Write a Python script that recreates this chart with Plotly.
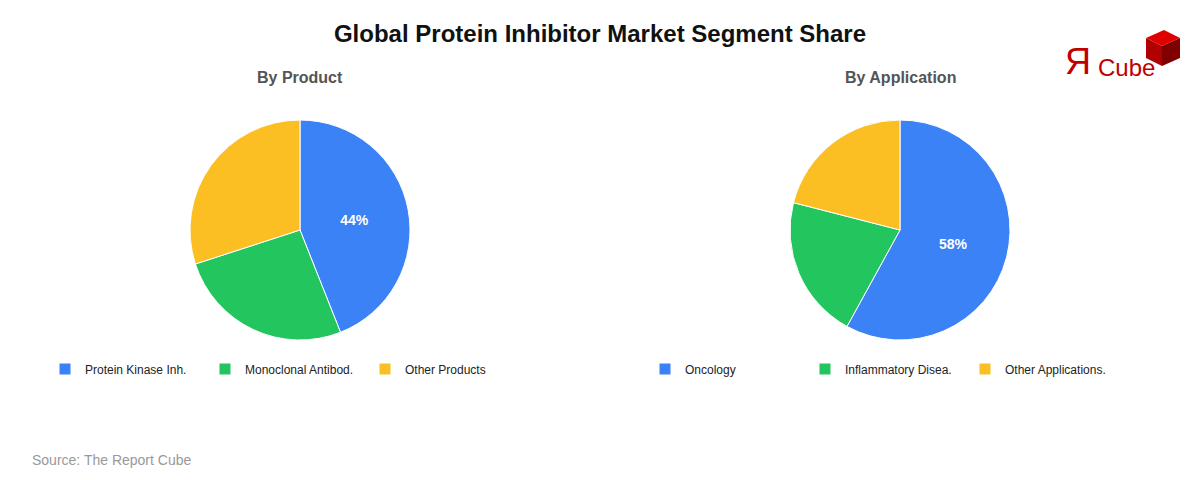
import plotly.graph_objects as go

prod_labels = ["Protein Kinase Inh.", "Monoclonal Antibod.", "Other Products"]
prod_values = [44, 26, 30]
app_labels = ["Oncology", "Inflammatory Disea.", "Other Applications."]
app_values = [58, 21, 21]
colors = ["#3b82f6", "#22c55e", "#fbbf24"]

W, H = 1200, 480
def dom(cx, cy, r):
    return dict(x=[(cx - r) / W, (cx + r) / W], y=[1 - (cy + r) / H, 1 - (cy - r) / H])

def texts(vals):
    m = max(vals)
    return [f"<b>{v}%</b>" if v == m else "" for v in vals]

fig = go.Figure()
fig.add_trace(go.Pie(labels=prod_labels, values=prod_values, sort=False, direction="clockwise",
                     rotation=0, marker=dict(colors=colors, line=dict(color="white", width=1)),
                     text=texts(prod_values), textinfo="text", textposition="inside",
                     insidetextfont=dict(color="white", size=14, family="Arial"),
                     domain=dom(300, 230, 110), legend="legend", hoverinfo="label+percent"))
fig.add_trace(go.Pie(labels=app_labels, values=app_values, sort=False, direction="clockwise",
                     rotation=0, marker=dict(colors=colors, line=dict(color="white", width=1)),
                     text=texts(app_values), textinfo="text", textposition="inside",
                     insidetextfont=dict(color="white", size=14, family="Arial"),
                     domain=dom(900, 230, 110), legend="legend2", hoverinfo="label+percent"))

leg = dict(orientation="h", yanchor="middle", xanchor="left", font=dict(size=12, color="#222", family="Arial"),
           entrywidth=115, entrywidthmode="pixels", itemwidth=30, bgcolor="rgba(0,0,0,0)")
def ann(text, x, y, size, color, xanchor="center", family="Arial"):
    return dict(text=text, x=x / W, y=1 - y / H, xref="paper", yref="paper", xanchor=xanchor,
                yanchor="middle", showarrow=False, font=dict(size=size, color=color, family=family))

fig.update_layout(
    autosize=True, margin=dict(l=0, r=0, t=0, b=0),
    paper_bgcolor="white", plot_bgcolor="white", font=dict(family="Arial"),
    title=dict(text="<b>Global Protein Inhibitor Market Segment Share</b>", x=0.5, y=1 - 34 / H,
               xanchor="center", yanchor="middle", font=dict(size=24, color="#111")),
    legend=dict(leg, x=45 / W, y=1 - 369 / H),
    legend2=dict(leg, x=645 / W, y=1 - 369 / H),
    annotations=[
        ann("<b>By Product</b>", 300, 77, 16, "#555"),
        ann("<b>By Application</b>", 900, 77, 16, "#555"),
        ann("Source: The Report Cube", 30, 460, 14, "#999", "left"),
        ann("Я", 1078, 62, 36, "#c00000"),
        ann("Cube", 1096, 67, 24, "#c00000", "left"),
    ],
    shapes=[
        dict(type="path", xref="paper", yref="paper", line=dict(width=0), fillcolor="#e00000",
             path=f"M {1146/W} {1-38/H} L {1164/W} {1-30/H} L {1180/W} {1-38/H} L {1162/W} {1-46/H} Z"),
        dict(type="path", xref="paper", yref="paper", line=dict(width=0), fillcolor="#b00000",
             path=f"M {1146/W} {1-38/H} L {1162/W} {1-46/H} L {1162/W} {1-66/H} L {1146/W} {1-58/H} Z"),
        dict(type="path", xref="paper", yref="paper", line=dict(width=0), fillcolor="#800000",
             path=f"M {1162/W} {1-46/H} L {1180/W} {1-38/H} L {1180/W} {1-58/H} L {1162/W} {1-66/H} Z"),
    ],
)
post = """
document.documentElement.style.margin='0';document.body.style.margin='0';document.body.style.overflow='hidden';
var gd=document.getElementById('{plot_id}');gd.style.width='100vw';gd.style.height='100vh';
Plotly.Plots.resize(gd);
"""
fig.write_html("out.html", default_width="100vw", default_height="100vh", post_script=post,
               config={"responsive": True, "displayModeBar": False})
